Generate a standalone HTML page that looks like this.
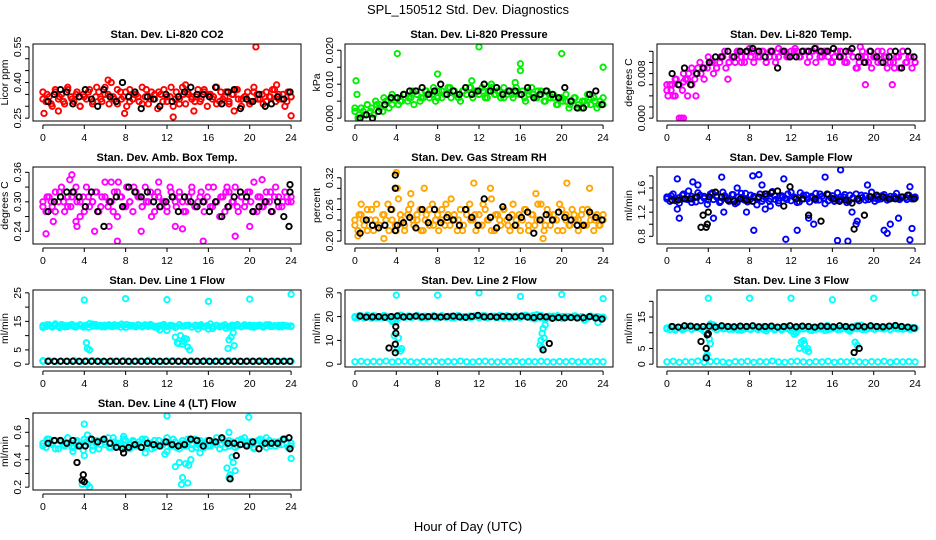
<!DOCTYPE html>
<html><head><meta charset="utf-8">
<style>
html,body{margin:0;padding:0;background:#fff;}
svg{display:block;font-family:"Liberation Sans",Arial,sans-serif;}
</style></head>
<body>
<svg id="chart" width="936" height="540" viewBox="0 0 936 540" xmlns="http://www.w3.org/2000/svg">
<text x="468" y="14" text-anchor="middle" font-size="13">SPL_150512  Std. Dev. Diagnostics</text>
<text x="468" y="531" text-anchor="middle" font-size="13">Hour of Day (UTC)</text>
</svg>
<script>
// ---------- data ----------
const co2Red=[0.36,0.32,0.34,0.30,0.37,0.33,0.35,0.31,0.38,0.34,0.32,0.36,0.30,0.35,0.33,0.37,0.31,0.34,0.36,0.32,0.38,0.35,0.40,0.33,0.31,0.36,0.34,0.30,0.37,0.33,0.35,0.32,0.38,0.34,0.31,0.36,0.33,0.29,0.35,0.37,0.32,0.34,0.30,0.36,0.33,0.38,0.31,0.35,0.34,0.32,0.37,0.33,0.36,0.30,0.35,0.34,0.38,0.32,0.33,0.36,0.31,0.35,0.37,0.33,0.30,0.34,0.36,0.32,0.38,0.35,0.33,0.31,0.36,0.34,0.37,0.32,0.35,0.33,0.30,0.36,0.34];
const co2Red2=[0.33,0.35,0.31,0.36,0.34,0.32,0.37,0.33,0.35,0.30,0.34,0.36,0.32,0.38,0.33,0.35,0.31,0.34,0.37,0.33,0.36,0.32,0.35,0.34,0.31,0.37,0.33,0.35,0.36,0.32,0.34,0.38,0.33,0.31,0.35,0.36,0.33,0.34,0.32,0.37,0.35,0.33,0.31,0.36,0.34,0.32,0.35,0.37,0.33,0.34,0.31,0.36,0.33,0.35,0.32,0.34,0.37,0.33,0.35,0.32,0.34];
const co2Out=[[20.6,0.55],[0.1,0.27],[24,0.26],[12.6,0.255],[6.3,0.41],[22.6,0.39],[13.8,0.39],[1.5,0.28],[7.9,0.27],[14.6,0.28],[18.5,0.28]];
const co2Black=[0.32,0.35,0.37,0.36,0.31,0.34,0.37,0.33,0.30,0.37,0.34,0.32,0.40,0.34,0.36,0.29,0.34,0.33,0.30,0.35,0.32,0.34,0.36,0.38,0.35,0.35,0.34,0.38,0.31,0.36,0.37,0.29,0.33,0.32,0.35,0.30,0.31,0.34,0.33,0.36];
const co2BlackExtra=[];

const presGreen=[0.002,0.000,0.003,0.001,0.004,0.002,0.001,0.004,0.003,0.002,0.005,0.003,0.004,0.006,0.004,0.005,0.007,0.005,0.006,0.004,0.007,0.005,0.006,0.008,0.006,0.007,0.005,0.008,0.006,0.007,0.009,0.006,0.008,0.007,0.005,0.008,0.007,0.009,0.006,0.008,0.007,0.009,0.006,0.008,0.010,0.007,0.008,0.006,0.009,0.007,0.008,0.006,0.009,0.007,0.008,0.005,0.007,0.009,0.006,0.008,0.007,0.005,0.008,0.006,0.007,0.004,0.006,0.005,0.007,0.003,0.005,0.006,0.004,0.003,0.005,0.007,0.004,0.006,0.003,0.005,0.004];
const presGreen2=[0.003,0.001,0.002,0.004,0.003,0.005,0.004,0.006,0.005,0.007,0.006,0.005,0.007,0.006,0.008,0.007,0.006,0.008,0.007,0.009,0.006,0.008,0.007,0.009,0.008,0.006,0.008,0.007,0.009,0.008,0.007,0.008,0.006,0.009,0.007,0.008,0.006,0.008,0.007,0.009,0.007,0.006,0.008,0.007,0.006,0.008,0.005,0.007,0.006,0.004,0.006,0.005,0.004,0.006,0.003,0.005,0.004,0.006,0.005,0.004,0.006];
const presOut=[[0.1,0.011],[4.1,0.019],[8,0.013],[12,0.021],[16,0.016],[16,0.014],[20,0.019],[24,0.015],[0.2,0.007],[11.3,0.011],[15.5,0.0105]];
const presBlack=[0.000,0.001,0.000,0.002,0.004,0.006,0.006,0.007,0.008,0.008,0.009,0.007,0.008,0.010,0.007,0.008,0.007,0.009,0.007,0.008,0.010,0.008,0.009,0.007,0.008,0.008,0.007,0.009,0.006,0.007,0.008,0.007,0.006,0.009,0.005,0.003,0.003,0.007,0.008,0.004];
const presBlackExtra=[];

const tempMag=[0.005,0.006,0.004,0.007,0.006,0.005,0.007,0.008,0.006,0.007,0.009,0.008,0.007,0.009,0.010,0.008,0.009,0.010,0.011,0.009,0.010,0.011,0.010,0.012,0.011,0.010,0.012,0.011,0.010,0.012,0.011,0.012,0.010,0.011,0.012,0.010,0.011,0.012,0.012,0.011,0.012,0.012,0.012,0.011,0.012,0.012,0.011,0.012,0.010,0.012,0.011,0.012,0.012,0.010,0.011,0.012,0.012,0.011,0.010,0.012,0.011,0.009,0.010,0.012,0.011,0.010,0.009,0.011,0.012,0.010,0.011,0.009,0.012,0.010,0.011,0.009,0.012,0.010,0.011,0.009,0.010];
const tempMag2=[0.006,0.005,0.007,0.006,0.008,0.007,0.009,0.008,0.010,0.009,0.011,0.010,0.009,0.011,0.012,0.010,0.011,0.012,0.010,0.011,0.0125,0.012,0.011,0.012,0.010,0.012,0.011,0.0125,0.012,0.011,0.012,0.0125,0.011,0.012,0.010,0.012,0.0125,0.011,0.012,0.011,0.010,0.012,0.011,0.010,0.012,0.011,0.009,0.011,0.010,0.012,0.011,0.010,0.012,0.011,0.010,0.009,0.011,0.012,0.010,0.011,0.010];
const tempOut=[[0.1,0.004],[0.8,0.004],[1.2,0],[1.4,0],[1.6,0],[2,0.004],[2.8,0.004],[5.9,0.007],[19.2,0.006],[21.8,0.006],[18.7,0.0128],[0.5,0.006],[1.6,0.0065]];
const tempBlack=[0.008,0.006,0.009,0.006,0.008,0.009,0.010,0.011,0.011,0.012,0.011,0.012,0.012,0.0125,0.012,0.011,0.012,0.009,0.012,0.011,0.011,0.012,0.012,0.0125,0.012,0.012,0.0125,0.011,0.012,0.0125,0.011,0.010,0.012,0.011,0.010,0.011,0.012,0.009,0.012,0.011];
const tempBlackExtra=[];

const ambMag=[0.30,0.28,0.31,0.29,0.32,0.30,0.33,0.28,0.31,0.29,0.32,0.30,0.27,0.31,0.33,0.29,0.30,0.32,0.28,0.31,0.34,0.29,0.30,0.32,0.27,0.31,0.29,0.33,0.30,0.28,0.32,0.31,0.29,0.33,0.30,0.27,0.31,0.32,0.29,0.30,0.28,0.33,0.31,0.29,0.32,0.30,0.28,0.31,0.33,0.29,0.30,0.32,0.28,0.31,0.29,0.33,0.30,0.27,0.31,0.32,0.29,0.30,0.33,0.28,0.31,0.29,0.32,0.30,0.34,0.28,0.31,0.29,0.32,0.30,0.28,0.33,0.31,0.29,0.32,0.30,0.31];
const ambMag2=[0.29,0.31,0.30,0.28,0.32,0.30,0.29,0.31,0.33,0.30,0.28,0.31,0.30,0.32,0.29,0.31,0.30,0.28,0.32,0.31,0.29,0.30,0.33,0.31,0.29,0.30,0.32,0.28,0.31,0.30,0.29,0.32,0.30,0.31,0.28,0.30,0.32,0.29,0.31,0.30,0.33,0.29,0.30,0.31,0.28,0.32,0.30,0.29,0.31,0.30,0.32,0.28,0.31,0.29,0.30,0.32,0.31,0.29,0.30,0.31,0.30];
const ambOut=[[0.3,0.235],[2.8,0.355],[2.6,0.345],[3.3,0.25],[5,0.24],[6.4,0.25],[7.2,0.22],[9.5,0.24],[12.8,0.25],[13.5,0.245],[15.5,0.22],[18.6,0.23],[20,0.25],[21.2,0.345],[11.2,0.34],[7.3,0.34],[1,0.26],[3.2,0.26],[6.6,0.34],[17.8,0.33]];
const ambBlack=[0.28,0.30,0.31,0.32,0.32,0.31,0.29,0.32,0.28,0.25,0.30,0.31,0.29,0.33,0.32,0.31,0.32,0.30,0.29,0.30,0.31,0.28,0.31,0.30,0.29,0.30,0.28,0.30,0.27,0.29,0.31,0.32,0.31,0.28,0.29,0.30,0.28,0.30,0.27,0.32];
const ambBlackExtra=[[23.8,0.25],[23.9,0.335]];

const rhOrange=[0.24,0.22,0.25,0.23,0.26,0.24,0.22,0.27,0.23,0.25,0.24,0.22,0.26,0.23,0.28,0.24,0.22,0.25,0.27,0.23,0.24,0.26,0.22,0.25,0.23,0.27,0.24,0.22,0.26,0.23,0.25,0.28,0.24,0.22,0.26,0.23,0.25,0.27,0.24,0.22,0.25,0.23,0.26,0.24,0.28,0.22,0.25,0.23,0.26,0.24,0.22,0.27,0.23,0.25,0.24,0.26,0.22,0.25,0.23,0.27,0.24,0.22,0.26,0.23,0.25,0.24,0.27,0.22,0.25,0.23,0.26,0.24,0.22,0.25,0.23,0.26,0.24,0.22,0.25,0.23,0.24];
const rhOrange2=[0.23,0.25,0.24,0.22,0.26,0.24,0.23,0.25,0.27,0.24,0.22,0.25,0.23,0.26,0.24,0.25,0.22,0.24,0.26,0.23,0.25,0.24,0.27,0.23,0.25,0.24,0.22,0.26,0.24,0.25,0.23,0.27,0.24,0.22,0.25,0.24,0.26,0.23,0.25,0.24,0.22,0.26,0.23,0.25,0.24,0.27,0.23,0.25,0.24,0.22,0.26,0.24,0.23,0.25,0.24,0.26,0.23,0.25,0.24,0.23,0.25];
const rhOut=[[4,0.33],[11.5,0.31],[20.5,0.31],[13.1,0.30],[22.7,0.30],[0.3,0.21],[2.8,0.205],[18.2,0.205],[4.1,0.30],[6.7,0.30],[17.5,0.29],[0.6,0.27],[5.4,0.29]];
const rhBlack=[0.215,0.24,0.23,0.225,0.23,0.26,0.23,0.235,0.245,0.225,0.26,0.235,0.26,0.235,0.245,0.24,0.23,0.26,0.245,0.23,0.28,0.245,0.225,0.265,0.245,0.23,0.245,0.255,0.215,0.24,0.25,0.24,0.255,0.245,0.24,0.23,0.23,0.255,0.245,0.24];
const rhBlackExtra=[[3.9,0.325],[3.9,0.30],[3.9,0.22]];

const flowBlue=[1.45,1.38,1.50,1.40,1.35,1.48,1.42,1.55,1.36,1.44,1.52,1.39,1.46,1.33,1.50,1.41,1.47,1.36,1.53,1.43,1.38,1.49,1.34,1.45,1.51,1.40,1.37,1.48,1.44,1.32,1.50,1.42,1.46,1.38,1.54,1.41,1.35,1.47,1.43,1.50,1.39,1.45,1.36,1.52,1.42,1.48,1.37,1.44,1.51,1.40,1.46,1.34,1.49,1.43,1.38,1.52,1.41,1.45,1.36,1.48,1.43,1.50,1.39,1.44,1.47,1.41,1.53,1.38,1.45,1.42,1.49,1.40,1.46,1.43,1.51,1.41,1.45,1.44,1.48,1.42,1.45];
const flowBlue2=[1.42,1.47,1.39,1.44,1.50,1.41,1.46,1.37,1.48,1.43,1.40,1.52,1.45,1.38,1.47,1.42,1.49,1.36,1.44,1.51,1.40,1.46,1.43,1.38,1.50,1.42,1.47,1.39,1.45,1.41,1.53,1.44,1.37,1.48,1.42,1.46,1.40,1.50,1.43,1.39,1.47,1.41,1.45,1.49,1.38,1.44,1.42,1.48,1.40,1.46,1.43,1.41,1.47,1.44,1.42,1.46,1.43,1.45,1.41,1.44,1.43];
const flowOut=[[1,1.75],[1.2,1.1],[3,1.65],[4.5,1.1],[5.3,1.78],[8.3,1.8],[8.4,0.9],[8.9,1.82],[9.5,1.25],[11.3,1.75],[11.5,0.75],[12.6,0.9],[14.2,1.0],[15.3,1.78],[16.5,0.73],[16.8,1.9],[17.5,0.72],[18.4,1.05],[18.3,1.0],[19.4,1.65],[21,0.9],[21.3,0.85],[21.6,1.0],[22.4,1.1],[23.5,0.74],[23.7,0.93],[23.5,1.62],[1,1.25],[5.5,1.2],[7.7,1.2],[2.5,1.7],[10,1.3],[6.8,1.6],[9.2,1.65],[13.7,1.1],[17.9,1.2]];
const flowBlack=[1.40,1.40,1.42,1.42,1.45,1.15,1.45,1.53,1.45,1.40,1.38,1.42,1.40,1.38,1.45,1.50,1.52,1.55,1.30,1.62,1.42,1.42,1.15,1.42,1.05,1.50,1.42,1.38,1.40,1.35,1.42,1.15,1.45,1.48,1.45,1.42,1.42,1.45,1.48,1.42];
const flowBlackExtra=[[3.3,0.95],[3.8,0.95],[3.9,1.0],[18.1,0.92],[4.0,1.2]];

const l1Cyan=[13.5,13.2,13.8,13.0,13.6,13.3,13.9,13.1,13.5,13.7,13.2,13.4,13.8,13.0,13.6,14.2,13.3,13.9,13.4,13.1,13.7,13.5,13.2,13.8,13.4,13.0,13.6,13.9,13.3,13.5,13.1,13.7,13.4,13.8,13.2,13.6,13.3,12.8,13.5,13.9,13.2,13.6,13.4,13.1,13.8,13.3,13.5,13.7,13.0,13.6,13.4,13.8,13.2,13.5,14.1,13.3,13.6,13.1,13.4,12.6,13.0,13.7,13.3,13.5,13.2,13.8,13.4,13.1,13.6,13.3,13.7,13.0,13.5,13.8,13.2,13.4,13.6,13.1,13.5,13.3,13.4];
const l1Cyan2=[12.9,13.8,13.3,14.1,12.8,13.6,13.2,13.9,13.0,13.7,13.4,12.9,14.0,13.3,13.6,13.1,13.8,13.2,13.5,14.0,12.9,13.6,13.3,13.8,13.1,13.5,13.9,13.0,13.4,13.7,13.2,13.6,12.9,13.8,13.3,13.5,13.0,13.7,13.4,13.1,12.3,12.5,13.6,13.3,13.8,13.2,13.5,13.9,13.1,13.4,13.7,13.0,13.6,13.3,13.8,13.2,13.5,13.1,13.7,13.4,13.2];
const l1CyanLow=[1.0,1.2,0.9,1.1,1.0,1.3,0.9,1.1,1.2,1.0,0.8,1.1,1.0,1.2,0.9,1.1,1.0,1.3,1.0,0.9,1.1,1.2,1.0,0.9,1.1,1.0,1.2,0.9,1.1,1.0,1.2,1.0,0.9,1.1,1.0,1.2,0.9,1.1,1.0,1.1,1.0];
const l1Out=[[4,22.5],[8,23],[12,22.6],[16,22],[20,22.8],[24,24.5],[4.2,7.5],[4.3,5.5],[4.5,5],[12.8,9.5],[13,7.5],[13.3,10],[13.5,7],[13.7,9],[14,6],[14.2,5],[13.1,7.2],[17.9,5.5],[18,8.5],[18.2,9.5],[18.4,11],[18.5,6.5],[11.3,12],[12,11.8],[15,12.3],[0,1.2],[13.9,8.8],[13.6,8],[4.1,13.5]];
const l1Black=[1.0,1.0,1.0,1.0,1.0,1.0,1.0,1.0,1.0,1.0,1.0,1.0,1.0,1.0,1.0,1.0,1.0,1.0,1.0,1.0,1.0,1.0,1.0,1.0,1.0,1.0,1.0,1.0,1.0,1.0,1.0,1.0,1.0,1.0,1.0,1.0,1.0,1.0,1.0,1.0];
const l1BlackExtra=[];

const l2Cyan=[20.0,19.6,20.3,19.4,20.1,19.8,20.4,19.5,20.0,19.7,20.2,19.9,18.0,17.5,19.5,20.5,19.8,20.2,19.6,20.0,20.3,19.7,20.1,19.5,19.9,20.2,19.6,20.0,20.4,19.8,20.1,19.5,19.9,20.3,19.7,20.0,19.6,20.2,19.8,20.1,19.5,20.0,20.3,19.7,19.9,20.2,19.6,20.0,19.8,20.4,19.5,20.1,19.9,19.7,20.3,20.6,20.2,19.4,19.0,19.8,20.5,19.6,20.0,19.7,20.2,19.5,19.9,20.1,19.6,20.0,19.8,20.3,19.7,20.0,18.5,19.6,20.2,19.8,20.0,19.5,19.8];
const l2Cyan2=[19.5,20.4,19.8,20.6,19.3,20.2,19.7,20.5,19.4,20.1,19.9,20.6,19.6,20.3,19.8,20.5,19.5,20.2,19.9,20.4,19.6,20.3,19.7,20.1,19.4,20.5,19.8,20.0,19.6,20.3,19.9,20.4,19.5,20.2,19.7,20.5,19.4,20.1,19.8,20.3,19.6,20.0,19.9,20.4,20.8,19.5,18.8,20.2,19.7,20.4,19.3,20.1,19.8,20.3,19.6,20.0,19.4,20.2,19.7,19.9,19.5];
const l2CyanLow=[1.0,1.2,0.9,1.1,1.0,1.3,0.9,1.1,1.2,1.0,0.8,1.1,1.0,1.2,0.9,1.1,1.0,1.3,1.0,0.9,1.1,1.2,1.0,0.9,1.1,1.0,1.2,0.9,1.1,1.0,1.2,1.0,0.9,1.1,1.0,1.2,0.9,1.1,1.0,1.1,1.0];
const l2Out=[[4,29],[8,29],[12,30],[16,28.5],[20,29.3],[24,27.6],[3.8,12],[4.2,11],[4.1,6],[4.4,5.5],[17.9,8],[18,10],[18.1,13],[18.2,15],[18.3,11],[18.1,7],[3.7,18],[23.5,17.5],[4.5,6.5],[18.4,16.5]];
const l2Black=[20.2,19.8,19.9,20.0,19.7,20.0,20.3,19.9,20.0,20.2,19.9,20.0,20.1,19.8,20.0,20.2,19.9,19.7,20.1,20.5,19.9,20.0,19.8,20.1,20.0,19.9,20.2,19.8,19.6,20.0,19.9,19.3,19.6,19.5,19.6,19.4,19.5,20.0,19.4,19.0];
const l2BlackExtra=[[3.3,6.8],[3.9,4.8],[3.9,8.4],[3.95,13],[3.95,15.8],[18.2,6],[18.8,8.7]];

const l3Cyan=[11.5,11.0,11.8,11.2,11.6,10.9,11.4,11.9,11.1,11.5,11.7,11.2,10.5,9.5,12.8,11.6,11.0,11.8,11.3,11.5,11.1,11.7,11.4,10.9,11.6,11.2,11.8,11.0,11.5,11.3,11.7,11.1,10.6,11.4,11.8,11.2,11.5,10.8,11.6,11.3,11.0,10.4,11.5,11.7,11.2,11.4,10.9,11.6,11.1,11.8,11.3,10.7,11.5,11.2,11.7,11.0,11.4,11.6,11.1,10.5,11.3,12.2,11.5,11.0,11.7,11.3,11.6,11.1,11.4,11.8,11.2,11.5,11.0,11.6,11.3,11.7,11.1,11.4,11.2,11.6,11.3];
const l3Cyan2=[11.2,11.9,10.8,11.6,11.3,12.0,11.1,11.7,11.4,10.9,11.8,12.5,11.0,11.6,11.3,11.9,11.1,11.5,10.8,11.7,11.2,11.6,11.0,11.8,11.3,11.5,10.9,11.7,11.2,11.9,10.6,11.4,11.1,11.8,11.3,10.7,11.6,11.2,11.5,11.0,11.8,11.4,11.1,11.6,10.9,11.7,11.3,12.4,11.0,11.6,11.2,11.8,11.3,11.5,11.0,11.7,11.2,11.6,11.4,11.1,11.5];
const l3CyanLow=[0.7,0.9,0.6,0.8,0.7,1.0,0.6,0.8,0.9,0.7,0.5,0.8,0.7,0.9,0.6,0.8,0.7,1.0,0.7,0.6,0.8,0.9,0.7,0.6,0.8,0.7,0.9,0.6,0.8,0.7,0.9,0.7,0.6,0.8,0.7,0.9,0.6,0.8,0.7,0.8,0.7];
const l3Out=[[4,21],[8,21],[12,21],[16,20.5],[20,21],[24,22.7],[4,9.5],[4.1,8],[3.9,3],[4.2,6.5],[3.8,2.5],[12.3,9.5],[12.5,10],[12.8,5],[13,7],[13.3,6.5],[13.4,4.5],[13.7,4],[18.2,7],[18.4,6],[4.5,12.5],[15.5,12.3],[13.2,7.5],[13.6,5]];
const l3Black=[12.0,11.8,12.2,12.1,11.9,12.0,12.1,11.8,12.2,12.0,11.9,12.1,12.0,12.2,11.9,12.0,12.1,11.8,12.0,12.2,11.9,12.1,12.0,11.8,12.1,12.0,11.9,12.2,12.0,11.8,12.1,11.9,12.2,12.0,11.9,12.1,12.3,12.0,11.8,11.5];
const l3BlackExtra=[[3.3,7.2],[3.8,5],[3.8,2],[3.9,9.3],[4,9.7],[18.1,3.7],[18.6,5]];

const l4Cyan=[0.52,0.49,0.55,0.51,0.54,0.48,0.53,0.50,0.56,0.52,0.49,0.54,0.51,0.47,0.53,0.55,0.50,0.52,0.48,0.54,0.51,0.56,0.49,0.53,0.50,0.52,0.55,0.48,0.51,0.54,0.50,0.53,0.49,0.55,0.52,0.48,0.54,0.51,0.50,0.53,0.46,0.52,0.55,0.49,0.51,0.54,0.50,0.53,0.48,0.55,0.51,0.52,0.49,0.54,0.50,0.53,0.51,0.48,0.55,0.52,0.50,0.53,0.49,0.54,0.51,0.56,0.50,0.53,0.48,0.52,0.55,0.51,0.49,0.54,0.52,0.50,0.53,0.51,0.55,0.49,0.52];
const l4Cyan2=[0.50,0.55,0.52,0.48,0.54,0.51,0.56,0.49,0.53,0.50,0.55,0.52,0.47,0.54,0.51,0.53,0.49,0.56,0.52,0.50,0.54,0.48,0.53,0.51,0.55,0.50,0.52,0.49,0.54,0.51,0.56,0.50,0.53,0.48,0.52,0.55,0.51,0.49,0.54,0.52,0.50,0.53,0.56,0.51,0.49,0.54,0.52,0.50,0.55,0.51,0.53,0.49,0.54,0.52,0.56,0.50,0.53,0.51,0.55,0.52,0.50];
const l4Out=[[4,0.66],[4.3,0.58],[4,0.43],[4.3,0.22],[4.5,0.2],[3.8,0.22],[12,0.72],[19.9,0.71],[7.8,0.57],[12.8,0.35],[13.2,0.38],[13.4,0.22],[13.5,0.27],[14,0.23],[13.8,0.37],[14.1,0.36],[14.3,0.4],[17.8,0.34],[18,0.27],[18.1,0.29],[18.3,0.42],[18.4,0.38],[18.6,0.32],[24,0.41],[15.2,0.45],[18,0.6],[9.9,0.45],[2.9,0.46],[11.8,0.44]];
const l4Black=[0.52,0.54,0.54,0.52,0.54,0.50,0.50,0.55,0.53,0.55,0.52,0.49,0.48,0.49,0.51,0.49,0.52,0.51,0.50,0.53,0.51,0.50,0.51,0.55,0.54,0.50,0.54,0.53,0.56,0.52,0.52,0.51,0.50,0.53,0.48,0.52,0.52,0.52,0.55,0.48];
const l4BlackExtra=[[3.3,0.38],[3.9,0.29],[3.8,0.25],[4,0.24],[18.1,0.26],[18.7,0.43],[7.8,0.45],[23.8,0.56]];

const xTicks=[0,4,8,12,16,20,24];

// ---------- layout ----------
const colX=[33,345,657], rowY=[44,167,290,413], boxW=268, boxH=77;
const panels=[
 {name:'co2',title:'Stan. Dev. Li-820 CO2',ylab:'Licor ppm',col:0,row:0,ylim:[0.25,0.55],ticks:[0.25,0.30,0.35,0.40,0.45,0.50,0.55],labels:['0.25','','','0.40','','','0.55'],color:'#ff0000',main:[co2Red,co2Red2],out:co2Out,black:co2Black,bx:co2BlackExtra},
 {name:'pressure',title:'Stan. Dev. Li-820 Pressure',ylab:'kPa',col:1,row:0,ylim:[0,0.021],ticks:[0,0.005,0.010,0.015,0.020],labels:['0.000','','0.010','','0.020'],color:'#00ee00',main:[presGreen,presGreen2],out:presOut,black:presBlack,bx:presBlackExtra},
 {name:'li820-temp',title:'Stan. Dev. Li-820 Temp.',ylab:'degrees C',col:2,row:0,ylim:[0,0.0128],ticks:[0,0.002,0.004,0.006,0.008,0.010,0.012],labels:['0.000','','','','0.008','',''],color:'#ff00ff',main:[tempMag,tempMag2],out:tempOut,black:tempBlack,bx:tempBlackExtra},
 {name:'amb-box-temp',title:'Stan. Dev. Amb. Box Temp.',ylab:'degrees C',col:0,row:1,ylim:[0.22,0.365],ticks:[0.24,0.27,0.30,0.33,0.36],labels:['0.24','','0.30','','0.36'],color:'#ff00ff',main:[ambMag,ambMag2],out:ambOut,black:ambBlack,bx:ambBlackExtra},
 {name:'gas-stream-rh',title:'Stan. Dev. Gas Stream RH',ylab:'percent',col:1,row:1,ylim:[0.20,0.335],ticks:[0.20,0.22,0.24,0.26,0.28,0.30,0.32],labels:['0.20','','','0.26','','','0.32'],color:'#ffa500',main:[rhOrange,rhOrange2],out:rhOut,black:rhBlack,bx:rhBlackExtra},
 {name:'sample-flow',title:'Stan. Dev. Sample Flow',ylab:'ml/min',col:2,row:1,ylim:[0.72,1.9],ticks:[0.8,1.0,1.2,1.4,1.6,1.8],labels:['0.8','','1.2','','1.6',''],color:'#0000ff',main:[flowBlue,flowBlue2],out:flowOut,black:flowBlack,bx:flowBlackExtra},
 {name:'line1-flow',title:'Stan. Dev. Line 1 Flow',ylab:'ml/min',col:0,row:2,ylim:[0,25],ticks:[0,5,10,15,20,25],labels:['0','5','','15','','25'],color:'#00ffff',main:[l1Cyan,l1Cyan2,l1CyanLow],out:l1Out,black:l1Black,bx:l1BlackExtra},
 {name:'line2-flow',title:'Stan. Dev. Line 2 Flow',ylab:'ml/min',col:1,row:2,ylim:[0,30],ticks:[0,10,20,30],labels:['0','10','20','30'],color:'#00ffff',main:[l2Cyan,l2Cyan2,l2CyanLow],out:l2Out,black:l2Black,bx:l2BlackExtra},
 {name:'line3-flow',title:'Stan. Dev. Line 3 Flow',ylab:'ml/min',col:2,row:2,ylim:[0,22.7],ticks:[0,5,10,15,20],labels:['0','5','','15',''],color:'#00ffff',main:[l3Cyan,l3Cyan2,l3CyanLow],out:l3Out,black:l3Black,bx:l3BlackExtra},
 {name:'line4-flow',title:'Stan. Dev. Line 4 (LT) Flow',ylab:'ml/min',col:0,row:3,ylim:[0.2,0.72],ticks:[0.2,0.3,0.4,0.5,0.6,0.7],labels:['0.2','','0.4','','0.6',''],color:'#00ffff',main:[l4Cyan,l4Cyan2],out:l4Out,black:l4Black,bx:l4BlackExtra}
];

const NS='http://www.w3.org/2000/svg';
const svg=document.getElementById('chart');
function mk(tag,attrs,parent){const e=document.createElementNS(NS,tag);for(const k in attrs)e.setAttribute(k,attrs[k]);(parent||svg).appendChild(e);return e;}

panels.forEach(p=>{
  const bx=colX[p.col], by=rowY[p.row];
  const g=mk('g',{});
  
  
  const xpad=24*0.04, ypad=(p.ylim[1]-p.ylim[0])*0.04;
  const xs=v=>bx+(v+xpad)/(24+2*xpad)*boxW;
  const ys=v=>by+boxH-(v-p.ylim[0]+ypad)/(p.ylim[1]-p.ylim[0]+2*ypad)*boxH;
  const clip='clip-'+p.name;
  const cp=mk('clipPath',{id:clip},g);mk('rect',{x:bx,y:by,width:boxW,height:boxH},cp);
  const pts=mk('g',{'clip-path':'url(#'+clip+')'},g);
  function dot(t,v,col,nm){
    const c=mk('circle',{cx:xs(t).toFixed(1),cy:ys(v).toFixed(1),r:2.7,fill:'none',stroke:col,'stroke-width':1.9},pts);
    
    
  }
  p.main.forEach(arr=>{arr.forEach((v,i)=>dot(24*i/(arr.length-1),v,p.color,p.name+'-point'));});
  p.out.forEach(d=>dot(d[0],d[1],p.color,p.name+'-outlier'));
  p.black.forEach((v,i)=>dot(0.5+23.4*i/(p.black.length-1),v,'#000',p.name+'-hourly-point'));
  p.bx.forEach(d=>dot(d[0],d[1],'#000',p.name+'-hourly-point'));
  const r=mk('rect',{x:bx,y:by,width:boxW,height:boxH,fill:'none',stroke:'#000','stroke-width':1},g);
  
  
  const t=mk('text',{x:bx+boxW/2,y:by-6,'text-anchor':'middle','font-size':11,'font-weight':'bold'},g);
  t.textContent=p.title;
  
  
  const ax=mk('line',{x1:xs(0),x2:xs(24),y1:by+boxH+4,y2:by+boxH+4,stroke:'#000'},g);
  
  
  xTicks.forEach(v=>{
    mk('line',{x1:xs(v),x2:xs(v),y1:by+boxH+4,y2:by+boxH+8,stroke:'#000'},g);
    const l=mk('text',{x:xs(v),y:by+boxH+20,'text-anchor':'middle','font-size':10.5},g);
    l.textContent=v;
    
    
  });
  const ay=mk('line',{x1:bx-4,x2:bx-4,y1:ys(p.ticks[0]),y2:ys(p.ticks[p.ticks.length-1]),stroke:'#000'},g);
  
  
  p.ticks.forEach((v,i)=>{
    const y=ys(v);
    mk('line',{x1:bx-8,x2:bx-4,y1:y,y2:y,stroke:'#000'},g);
    if(p.labels[i]){
      const l=mk('text',{x:bx-12,y:y,'text-anchor':'middle','font-size':10.5,transform:'rotate(-90 '+(bx-12)+' '+y+')'},g);
      l.textContent=p.labels[i];
      
      
    }
  });
  const yl=mk('text',{x:bx-25,y:by+boxH/2,'text-anchor':'middle','font-size':10.5,transform:'rotate(-90 '+(bx-25)+' '+(by+boxH/2)+')'},g);
  yl.textContent=p.ylab;
  
  
});
</script>
</body></html>
